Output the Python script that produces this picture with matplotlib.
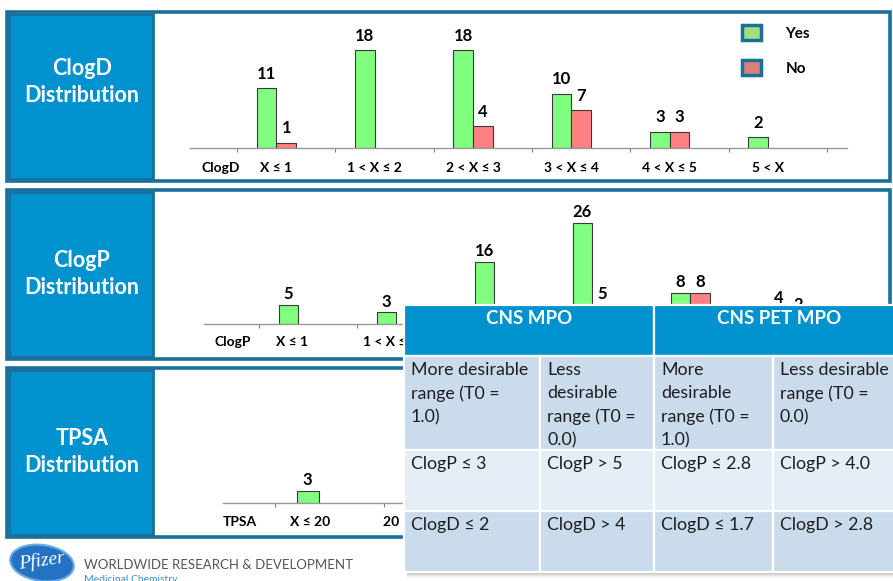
import matplotlib
matplotlib.use("Agg")
import matplotlib.pyplot as plt
from matplotlib.patches import Rectangle, Ellipse, Patch
import numpy as np

FONT = ["Lato", "DejaVu Sans"]
plt.rcParams["font.family"] = FONT

# ---------------------------------------------------------------- data
clogd_bins = ["X ≤ 1", "1 < X ≤ 2", "2 < X ≤ 3", "3 < X ≤ 4", "4 < X ≤ 5", "5 < X"]
clogd_yes = [11, 18, 18, 10, 3, 2]
clogd_no = [1, 0, 4, 7, 3, 0]

clogp_bins = ["X ≤ 1", "1 < X ≤ 2", "2 < X ≤ 3", "3 < X ≤ 4", "4 < X ≤ 5", "5 < X"]
clogp_yes = [5, 3, 16, 26, 8, 4]
clogp_no = [0, 0, 0, 5, 8, 2]

tpsa_bins = ["X ≤ 20", "20 < X ≤ 40"]
tpsa_yes = [3]
tpsa_no = [0]

series_names = ["Yes", "No"]

table_groups = ["CNS MPO", "CNS PET MPO"]
table_rows = [
    ["More desirable\nrange (T0 =\n1.0)", "Less\ndesirable\nrange (T0 =\n0.0)",
     "More\ndesirable\nrange (T0 =\n1.0)", "Less desirable\nrange (T0 =\n0.0)"],
    ["ClogP ≤ 3", "ClogP > 5", "ClogP ≤ 2.8", "ClogP > 4.0"],
    ["ClogD ≤ 2", "ClogD > 4", "ClogD ≤ 1.7", "ClogD > 2.8"],
]

# ---------------------------------------------------------------- style
W, H = 893, 581
GREEN, RED = "#80ff80", "#ff8080"
LEG_GREEN, LEG_RED = "#9fe07c", "#d98079"
FRAME = "#1b6f9b"
BLUE = "#0092cf"
BAR_W = 0.2

fig = plt.figure(figsize=(W / 100, H / 100), dpi=100)
fig.patch.set_facecolor("white")


def pixel_axes(z):
    ax = fig.add_axes([0, 0, 1, 1], zorder=z)
    ax.set_xlim(0, W)
    ax.set_ylim(H, 0)
    ax.axis("off")
    return ax


bg = pixel_axes(0)
over = pixel_axes(3)

# ---------------------------------------------------------------- panel frames
panels = [
    dict(title="ClogD\nDistribution", top=12, bottom=181, text_y=82),
    dict(title="ClogP\nDistribution", top=190, bottom=359, text_y=274),
    dict(title="TPSA\nDistribution", top=368, bottom=537, text_y=452),
]
for p in panels:
    bg.add_patch(Rectangle((7, p["top"]), 883, p["bottom"] - p["top"],
                           facecolor="white", edgecolor=FRAME, lw=2.6))
    bg.add_patch(Rectangle((9, p["top"] + 2), 144, p["bottom"] - p["top"] - 4,
                           facecolor=BLUE, edgecolor=FRAME, lw=2.0))
    bg.text(82, p["text_y"], p["title"], color="white", fontsize=15.5,
            fontweight="bold", ha="center", va="center", linespacing=1.32)


# ---------------------------------------------------------------- bar charts
def bar_chart(px_box, slot_px, slot0_px, px_per_unit, name, bins, yes, no,
              name_pos, label_shift, pad, value_gap):
    x0, y0, x1, y1 = px_box
    ax = fig.add_axes([x0 / W, 1 - y1 / H, (x1 - x0) / W, (y1 - y0) / H], zorder=1)
    ax.patch.set_alpha(0)
    ax.set_xlim((x0 - slot0_px) / slot_px, (x1 - slot0_px) / slot_px)
    ax.set_ylim(0, (y1 - y0) / px_per_unit)

    idx = np.arange(1, len(yes) + 1)
    yes_a = np.array(yes, dtype=float)
    no_a = np.array(no, dtype=float)
    ax.bar(idx - BAR_W, yes_a, BAR_W, color=GREEN, edgecolor="#3a3a3a", lw=0.8)
    ax.bar(idx[no_a > 0], no_a[no_a > 0], BAR_W, color=RED, edgecolor="#3a3a3a", lw=0.8)
    for xs, vals in ((idx - BAR_W, yes_a), (idx, no_a)):
        for x, v in zip(xs, vals):
            if v > 0:
                ax.annotate(f"{v:g}", (x, v), xytext=(0, value_gap),
                            textcoords="offset points", ha="center", va="bottom",
                            fontsize=12, fontweight="bold", annotation_clip=False)

    for s in ("top", "right", "left"):
        ax.spines[s].set_visible(False)
    ax.spines["bottom"].set_color("#9a9a9a")
    ax.spines["bottom"].set_linewidth(1.0)
    ax.set_yticks([])
    ax.set_xticks([name_pos] + list(np.arange(1, len(bins) + 1) + label_shift))
    ax.set_xticklabels([name] + bins, fontsize=10, fontweight="bold")
    ax.tick_params(axis="x", which="major", length=0, pad=pad)
    ax.set_xticks(np.arange(0.5, len(bins) + 1, 1.0), minor=True)
    ax.tick_params(axis="x", which="minor", length=3, width=0.8, color="#808080")
    return ax


bar_chart((190, 30, 847, 148), 98.3, 188, 5.44, "ClogD",
          clogd_bins, clogd_yes, clogd_no, 0.33, -0.1, 10, 4.5)
bar_chart((204, 200, 875, 324), 98.0, 210, 3.88, "ClogP",
          clogp_bins, clogp_yes, clogp_no, 0.23, -0.16, 9, 2.0)
bar_chart((223, 380, 880, 503), 109.0, 220.5, 4.0, "TPSA",
          tpsa_bins, tpsa_yes, tpsa_no, 0.18, -0.18, 9, 2.0)

# legend of the ClogD panel
handles = [Patch(facecolor=LEG_GREEN, edgecolor=FRAME, lw=2.5),
           Patch(facecolor=LEG_RED, edgecolor=FRAME, lw=2.5)]
fig.legend(handles, series_names, loc="upper left", bbox_to_anchor=(742 / W, 1 - 25 / H),
           frameon=False, prop={"size": 11, "weight": "bold", "family": FONT},
           handlelength=1.25, handleheight=1.15, handletextpad=1.6,
           labelspacing=1.25, borderpad=0, borderaxespad=0)

# ---------------------------------------------------------------- table overlay
col_edges = [404, 540, 654, 773, 905]
row_edges = [305, 356, 450, 511, 572]
row_colors = ["#cadcec", "#e5edf6", "#cadcec"]

# soft shadow under the table
for i, a in enumerate([0.55, 0.4, 0.28, 0.18, 0.1, 0.05]):
    over.add_patch(Rectangle((407, row_edges[-1] + i), W - 407, 1.0,
                             facecolor="#707070", edgecolor="none", alpha=a))

# header
for g, name in enumerate(table_groups):
    left, right = col_edges[2 * g], col_edges[2 * g + 2]
    over.add_patch(Rectangle((left, row_edges[0]), right - left, row_edges[1] - row_edges[0],
                             facecolor=BLUE, edgecolor="white", lw=1.6))
    over.text((left + right) / 2, row_edges[0] + 5, name, color="white", fontsize=13.5,
              fontweight="bold", ha="center", va="top")

# body cells
for r, row in enumerate(table_rows):
    top, bot = row_edges[r + 1], row_edges[r + 2]
    for c, txt in enumerate(row):
        left, right = col_edges[c], col_edges[c + 1]
        over.add_patch(Rectangle((left, top), right - left, bot - top,
                                 facecolor=row_colors[r], edgecolor="white", lw=1.6))
        over.text(left + 7, top + 6, txt, color="#1e1e1e", fontsize=12.8,
                  ha="left", va="top", linespacing=1.55)

# ---------------------------------------------------------------- footer
bg.add_patch(Ellipse((42, 563), 64, 36, angle=8, facecolor="#2472c4",
                     edgecolor="#6aa8e0", lw=1.5))
bg.text(42, 561, "Pfizer", color="white", fontsize=14, style="italic",
        family=["Liberation Serif", "DejaVu Serif"], ha="center", va="center",
        rotation=8)
bg.text(84, 565, "WORLDWIDE RESEARCH & DEVELOPMENT", color="#555555",
        fontsize=9.5, ha="left", va="center")
bg.text(84, 579, "Medicinal Chemistry", color="#3d8ec9", fontsize=7.5,
        ha="left", va="center")

fig.savefig("out.png", dpi=100)
